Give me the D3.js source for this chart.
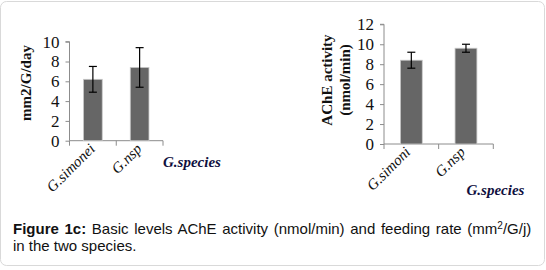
<!DOCTYPE html>
<html>
<head>
<meta charset="utf-8">
<script src="https://cdn.jsdelivr.net/npm/d3@7"></script>
<style>
  body { margin: 0; background: #fff; }
  svg { display: block; }
  .tick text { font-family: 'Liberation Serif', 'Times New Roman', serif; }
</style>
</head>
<body>
<div id="chartContainer"></div>
<script>
const width = 546;
const height = 270;
const serif = "'Liberation Serif', 'Times New Roman', serif";

// feeding rate panel
const species1 = ["G.simonei", "G.nsp"];
const feeding = [6.2, 7.4];
const feedingLow = [4.9, 5.4];
const feedingHigh = [7.5, 9.4];
const feedingTicks = [0, 2, 4, 6, 8, 10];

// AChE panel
const species2 = ["G.simoni", "G.nsp"];
const ache = [8.4, 9.6];
const acheLow = [7.6, 9.2];
const acheHigh = [9.2, 10.0];
const acheTicks = [0, 2, 4, 6, 8, 10, 12];

const svg = d3.select("#chartContainer")
    .append("svg")
    .attr("width", width)
    .attr("height", height);

// card border
svg.append("rect")
    .attr("x", 0.5)
    .attr("y", 1.5)
    .attr("width", 544)
    .attr("height", 264)
    .attr("rx", 6)
    .attr("fill", "#fff")
    .attr("stroke", "#d9d9d9");

function drawPanel(opts) {
    const x = d3.scaleBand()
        .domain(opts.cats)
        .range([opts.left, opts.right])
        .paddingInner(0.6)
        .paddingOuter(0.3);

    const y = d3.scaleLinear()
        .domain([0, opts.max])
        .range([opts.bottom, opts.top]);

    const g = svg.append("g");

    // y axis
    const yAxis = g.append("g")
        .attr("transform", `translate(${opts.left}, 0)`)
        .call(d3.axisLeft(y).tickValues(opts.ticks).tickSize(4).tickPadding(6));
    yAxis.selectAll("path, line").attr("stroke", "#8c8c8c");
    yAxis.select(".domain").attr("d", `M-4,${y(opts.max)}H0V${opts.bottom}`);
    yAxis.selectAll("text")
        .attr("fill", "#111")
        .style("font-family", serif)
        .style("font-size", "17px");

    // x axis with category boundary ticks
    const step = (opts.right - opts.left) / opts.cats.length;
    const xb = g.append("g").attr("transform", `translate(0, ${opts.bottom})`);
    xb.append("line")
        .attr("x1", opts.left).attr("x2", opts.right)
        .attr("stroke", "#8c8c8c");
    xb.selectAll(".tk")
        .data(d3.range(opts.cats.length + 1))
        .join("line")
        .attr("x1", i => opts.left + i * step)
        .attr("x2", i => opts.left + i * step)
        .attr("y1", 0).attr("y2", 5)
        .attr("stroke", "#8c8c8c");

    // bars
    g.selectAll(".bar")
        .data(opts.values)
        .join("rect")
        .attr("x", (d, i) => x(opts.cats[i]))
        .attr("width", x.bandwidth())
        .attr("y", d => y(d))
        .attr("height", d => y(0) - y(d))
        .attr("fill", "#666")
        .attr("stroke", "#c8c8c8")
        .attr("stroke-width", 0.8);

    // error bars
    opts.values.forEach((d, i) => {
        const cx = x(opts.cats[i]) + x.bandwidth() / 2;
        g.append("line")
            .attr("x1", cx).attr("x2", cx)
            .attr("y1", y(opts.low[i])).attr("y2", y(opts.high[i]))
            .attr("stroke", "#000").attr("stroke-width", 1.2);
        [opts.low[i], opts.high[i]].forEach(v => {
            g.append("line")
                .attr("x1", cx - 4).attr("x2", cx + 4)
                .attr("y1", y(v)).attr("y2", y(v))
                .attr("stroke", "#000").attr("stroke-width", 1.2);
        });
    });

    // category labels, rotated
    g.selectAll(".cat")
        .data(opts.cats)
        .join("text")
        .attr("transform", (d, i) => `translate(${opts.left + (i + 0.5) * step + opts.labelDx}, ${opts.bottom + 9}) rotate(-45)`)
        .attr("text-anchor", "end")
        .style("font-family", serif)
        .style("font-style", "italic")
        .style("font-size", "15px")
        .attr("fill", "#111")
        .text(d => d);

    // axis title
    g.append("text")
        .attr("x", opts.titleX)
        .attr("y", opts.titleY)
        .style("font-family", serif)
        .style("font-style", "italic")
        .style("font-weight", "bold")
        .style("font-size", "15px")
        .attr("fill", "#101040")
        .text("G.species");

    // y label
    const yl = g.append("text")
        .attr("transform", `translate(${opts.ylabelX}, ${opts.ylabelY}) rotate(-90)`)
        .attr("text-anchor", "middle")
        .style("font-family", serif)
        .style("font-weight", "bold")
        .style("font-size", "15px")
        .attr("fill", "#111");
    opts.ylabel.forEach((line, i) => {
        yl.append("tspan")
            .attr("x", 0)
            .attr("dy", i === 0 ? 0 : 17.5)
            .text(line);
    });
}

drawPanel({
    cats: species1, values: feeding, low: feedingLow, high: feedingHigh,
    ticks: feedingTicks, max: 10,
    left: 69.5, right: 163, top: 41.7, bottom: 140.7,
    labelDx: 3,
    titleX: 163, titleY: 167,
    ylabel: ["mm2/G/day"], ylabelX: 31, ylabelY: 83
});

drawPanel({
    cats: species2, values: ache, low: acheLow, high: acheHigh,
    ticks: acheTicks, max: 12,
    left: 384, right: 493.3, top: 24.3, bottom: 144,
    labelDx: 0,
    titleX: 466.5, titleY: 195,
    ylabel: ["AChE activity", "(nmol/min)"], ylabelX: 332, ylabelY: 80
});

// caption
const cap = svg.append("text")
    .attr("x", 13)
    .attr("y", 233.5)
    .style("font-family", "'Liberation Sans', Arial, sans-serif")
    .style("font-size", "15px")
    .attr("fill", "#111");
const l1 = cap.append("tspan").attr("x", 13).style("word-spacing", "1.5px");
l1.append("tspan").style("font-weight", "bold").text("Figure 1c:");
l1.append("tspan").text(" Basic levels AChE activity (nmol/min) and feeding rate (mm");
l1.append("tspan").attr("dy", -5).style("font-size", "10px").text("2");
l1.append("tspan").attr("dy", 5).text("/G/j)");
cap.append("tspan").attr("x", 13).attr("y", 250.5).text("in the two species.");
</script>
</body>
</html>
